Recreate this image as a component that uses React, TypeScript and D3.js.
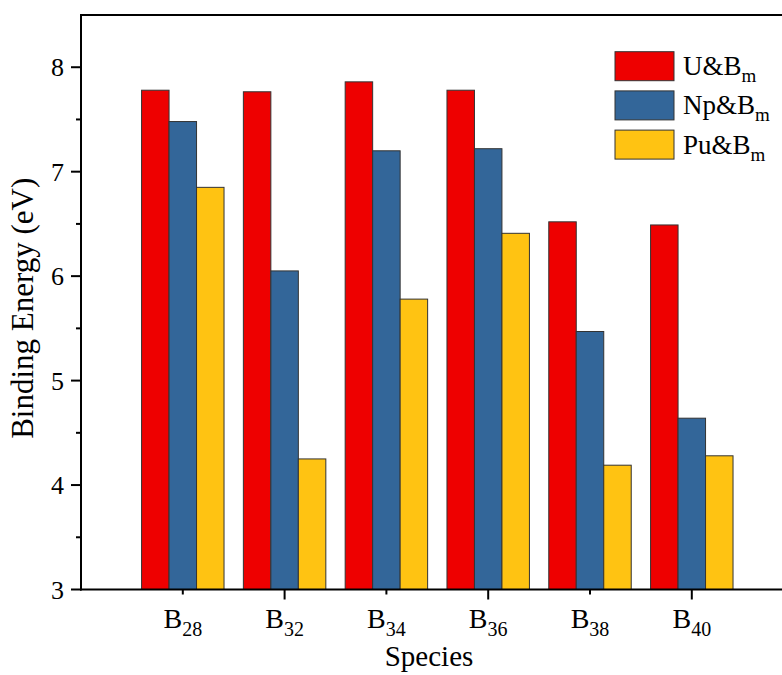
import React, { useEffect, useRef } from "react";
import * as d3 from "d3";

// categories (subscript part of B_n)
const species = ["28", "32", "34", "36", "38", "40"];
const seriesNames = ["U", "Np", "Pu"];
const uValues = [7.78, 7.765, 7.86, 7.78, 6.52, 6.49];
const npValues = [7.48, 6.05, 7.2, 7.22, 5.47, 4.64];
const puValues = [6.85, 4.25, 5.78, 6.41, 4.19, 4.28];
const yTicks = [3, 4, 5, 6, 7, 8];
const yMinorTicks = [3.5, 4.5, 5.5, 6.5, 7.5];
const colors = ["#ee0000", "#336699", "#ffc312"];

const W = 782;
const H = 675;
const FONT = "Liberation Serif, Times New Roman, DejaVu Serif, serif";

const App = () => {
  const svgRef = useRef<SVGSVGElement>(null);

  useEffect(() => {
    document.body.style.margin = "0";
    const svg = d3.select(svgRef.current);
    svg.selectAll("*").remove();

    const left = 81;
    const top = 15;
    const bottom = 589.5;

    const x = d3.scaleLinear().domain([0, 7]).range([left, left + 7 * 101.8]);
    const y = d3.scaleLinear().domain([3, 8.5]).range([bottom, top]);
    const barW = x(0.27) - x(0);

    const series = [uValues, npValues, puValues];

    // bars
    series.forEach((vals, s) => {
      svg
        .append("g")
        .selectAll("rect")
        .data(vals)
        .enter()
        .append("rect")
        .attr("x", (d, i) => x(i + 1) + (s - 1.5) * barW)
        .attr("y", (d) => y(d))
        .attr("width", barW)
        .attr("height", (d) => y(3) - y(d))
        .attr("fill", colors[s])
        .attr("stroke", "#333")
        .attr("stroke-width", 1);
    });

    const axisColor = "#000";

    // frame lines: top, left, bottom
    svg
      .append("line")
      .attr("x1", left - 1)
      .attr("x2", W)
      .attr("y1", top)
      .attr("y2", top)
      .attr("stroke", axisColor)
      .attr("stroke-width", 2);
    svg
      .append("line")
      .attr("x1", left)
      .attr("x2", left)
      .attr("y1", top - 1)
      .attr("y2", bottom + 1)
      .attr("stroke", axisColor)
      .attr("stroke-width", 2);
    svg
      .append("line")
      .attr("x1", left - 1)
      .attr("x2", W)
      .attr("y1", bottom)
      .attr("y2", bottom)
      .attr("stroke", axisColor)
      .attr("stroke-width", 2);

    // y ticks
    svg
      .append("g")
      .selectAll("line")
      .data(yTicks)
      .enter()
      .append("line")
      .attr("x1", left - 10)
      .attr("x2", left)
      .attr("y1", (d) => y(d))
      .attr("y2", (d) => y(d))
      .attr("stroke", axisColor)
      .attr("stroke-width", 2);
    svg
      .append("g")
      .selectAll("line")
      .data(yMinorTicks)
      .enter()
      .append("line")
      .attr("x1", left - 5)
      .attr("x2", left)
      .attr("y1", (d) => y(d))
      .attr("y2", (d) => y(d))
      .attr("stroke", axisColor)
      .attr("stroke-width", 2);

    const g = svg.append("g").style("font-family", FONT);

    g.append("g")
      .selectAll("text")
      .data(yTicks)
      .enter()
      .append("text")
      .attr("x", left - 17)
      .attr("y", (d) => y(d) + 9)
      .attr("text-anchor", "end")
      .attr("font-size", 26)
      .text((d) => d);

    // x ticks (long on even positions)
    svg
      .append("g")
      .selectAll("line")
      .data(species)
      .enter()
      .append("line")
      .attr("x1", (d, i) => x(i + 1))
      .attr("x2", (d, i) => x(i + 1))
      .attr("y1", bottom)
      .attr("y2", (d, i) => bottom + ((i + 1) % 2 === 0 ? 10 : 5))
      .attr("stroke", axisColor)
      .attr("stroke-width", 2);

    const xl = g
      .append("g")
      .selectAll("text")
      .data(species)
      .enter()
      .append("text")
      .attr("x", (d, i) => x(i + 1))
      .attr("y", 628)
      .attr("text-anchor", "middle")
      .attr("font-size", 28);
    xl.append("tspan").text("B");
    xl.append("tspan")
      .attr("font-size", 20)
      .attr("dy", 8)
      .text((d) => d);

    // axis titles
    g.append("text")
      .attr("x", 429)
      .attr("y", 666)
      .attr("text-anchor", "middle")
      .attr("font-size", 29)
      .text("Species");
    g.append("text")
      .attr("transform", `translate(33,${(top + bottom) / 2 + 6}) rotate(-90)`)
      .attr("text-anchor", "middle")
      .attr("font-size", 31)
      .text("Binding Energy (eV)");

    // legend
    const lg = g
      .append("g")
      .selectAll("g")
      .data(seriesNames)
      .enter()
      .append("g")
      .attr("transform", (d, i) => `translate(615,${51.7 + i * 39.2})`);
    lg.append("rect")
      .attr("width", 59)
      .attr("height", 29)
      .attr("fill", (d, i) => colors[i])
      .attr("stroke", "#333")
      .attr("stroke-width", 1);
    const lt = lg
      .append("text")
      .attr("x", 68)
      .attr("y", 23.5)
      .attr("font-size", 27);
    lt.append("tspan").text((d) => `${d}&B`);
    lt.append("tspan").attr("font-size", 19).attr("dy", 7).text("m");
  }, []);

  return <svg ref={svgRef} width={W} height={H} style={{ display: "block" }}></svg>;
};

export default App;
